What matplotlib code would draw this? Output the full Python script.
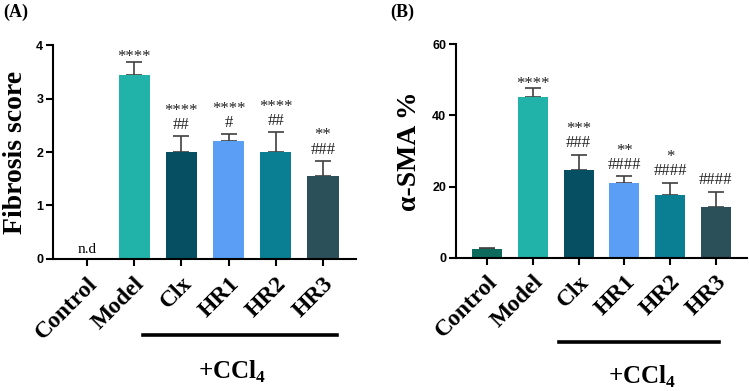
import matplotlib
matplotlib.use("Agg")
import matplotlib.pyplot as plt
from matplotlib.lines import Line2D
import matplotlib.transforms as mtransforms

plt.rcParams['mathtext.fontset'] = 'custom'
plt.rcParams['mathtext.rm'] = 'Liberation Serif'
plt.rcParams['mathtext.bf'] = 'Liberation Serif:bold'

categories = ['Control', 'Model', 'Clx', 'HR1', 'HR2', 'HR3']
colors = ['#0d6b5e', '#21b3a9', '#064f63', '#5a9ff5', '#0a7e93', '#2b5059']

fib_mean = [0, 3.44, 2.0, 2.2, 2.0, 1.55]
fib_sd = [0, 0.25, 0.29, 0.13, 0.37, 0.28]
fib_sig = ['', '****', '****\n##', '****\n#', '****\n##', '**\n###']

sma_mean = [2.45, 45.1, 24.6, 21.1, 17.7, 14.3]
sma_sd = [0.35, 2.5, 4.3, 1.8, 3.4, 4.3]
sma_sig = ['', '****', '***\n###', '**\n####', '*\n####', '####']

SERIF = 'Liberation Serif'
SANS = 'Liberation Sans'

fig = plt.figure(figsize=(7.49, 3.91), dpi=100)
axA = fig.add_axes([0.0708, 0.3376, 0.4045, 0.5473])
axB = fig.add_axes([0.6088, 0.341, 0.3885, 0.5458])


def draw(ax, means, sds, sigs, ylim, yticks, ylabel, xlim, labcoord):
    x = list(range(len(categories)))
    ax.bar(x, means, width=0.66, color=colors, zorder=2)
    ax.errorbar(x, means, yerr=[[0] * len(sds), sds], fmt='none',
                ecolor='#404040', elinewidth=1.2, capsize=5.5, capthick=1.2, zorder=1)
    for xi, m, s, t in zip(x, means, sds, sigs):
        if t:
            off = 2.5 if '#' in t.split('\n')[-1] else -2.5
            trans = mtransforms.offset_copy(ax.transData, fig=fig, x=0, y=off, units='points')
            ax.text(xi, m + s, t, transform=trans, ha='center', va='bottom',
                    fontsize=12, family=SERIF, linespacing=0.85, color='#222222')
    ax.set_ylim(*ylim)
    ax.set_xlim(*xlim)
    ax.set_yticks(yticks)
    ax.set_xticks(x)
    ax.set_xticklabels(categories, rotation=45, ha='right', va='top',
                       rotation_mode='anchor', fontsize=17, fontweight='bold', family=SERIF)
    for lab in ax.get_yticklabels():
        lab.set_fontfamily(SANS)
        lab.set_fontweight('bold')
        lab.set_fontsize(9)
    ax.spines['top'].set_visible(False)
    ax.spines['right'].set_visible(False)
    ax.spines['left'].set_linewidth(1.5)
    ax.spines['bottom'].set_linewidth(1.5)
    ax.tick_params(axis='both', width=1.5, length=5, direction='out')
    ax.tick_params(axis='y', pad=2)
    ax.tick_params(axis='x', pad=5)
    ax.set_ylabel(ylabel, fontsize=20, fontweight='bold', family=SERIF)
    ax.yaxis.set_label_coords(labcoord, 0.5)


draw(axA, fib_mean, fib_sd, fib_sig, (0, 4), [0, 1, 2, 3, 4], 'Fibrosis score',
     (-0.72, 5.7), -0.083)
draw(axB, sma_mean, sma_sd, sma_sig, (0, 60), [0, 20, 40, 60], 'α-SMA %',
     (-0.68, 5.68), -0.117)

axA.text(0, 0.06, 'n.d', ha='center', va='bottom', fontsize=11, family=SERIF)

# +CCl4 group lines
transA = mtransforms.blended_transform_factory(axA.transData, fig.transFigure)
axA.add_line(Line2D([1.19, 5.30], [0.143, 0.143], transform=transA, color='black',
                    lw=2.6, clip_on=False))
transB = mtransforms.blended_transform_factory(axB.transData, fig.transFigure)
axB.add_line(Line2D([1.57, 5.07], [0.125, 0.125], transform=transB, color='black',
                    lw=2.6, clip_on=False))
fig.text(0.3097, 0.049, r'+CCl$_\mathbf{4}$', ha='center', va='center', fontsize=18,
         family=SERIF, fontweight='bold')
fig.text(0.857, 0.036, r'+CCl$_\mathbf{4}$', ha='center', va='center', fontsize=18,
         family=SERIF, fontweight='bold')

fig.text(0.004, 0.968, '(A)', ha='left', va='center', fontsize=13, fontweight='bold', family=SERIF)
fig.text(0.521, 0.968, '(B)', ha='left', va='center', fontsize=13, fontweight='bold', family=SERIF)

fig.savefig('out.png', dpi=100)
